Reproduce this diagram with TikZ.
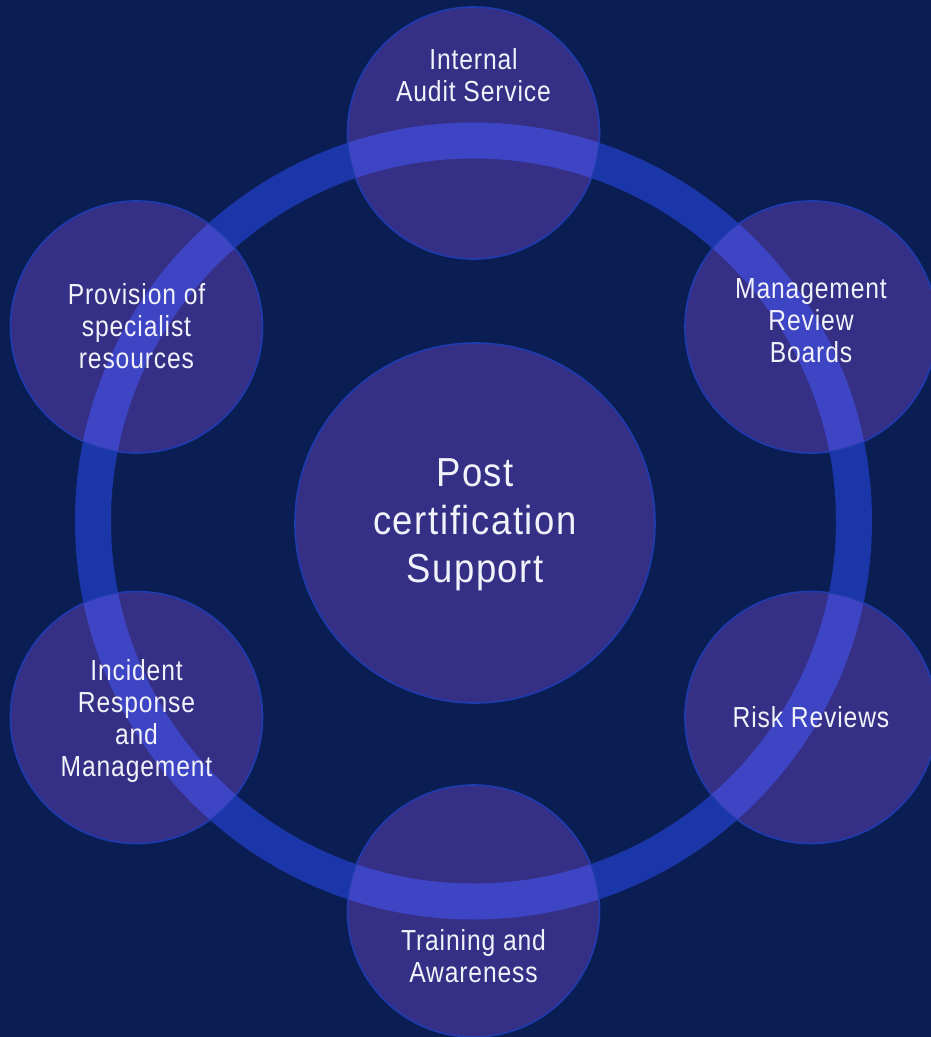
\documentclass[tikz,border=0pt]{standalone}
\usepackage{fontspec}
\setmainfont{Liberation Sans}
\newfontfamily\smallf{Liberation Sans}[FakeStretch=0.85,LetterSpace=3]
\newfontfamily\bigf{Liberation Sans}[FakeStretch=0.9,LetterSpace=4]
\definecolor{bg}{RGB}{11,30,84}
\definecolor{ringc}{RGB}{27,54,168}
\definecolor{ringhi}{RGB}{62,69,196}
\definecolor{circfill}{RGB}{53,47,133}
\definecolor{circline}{RGB}{30,60,175}
\definecolor{txt}{RGB}{242,242,250}
\tikzset{
  ringstyle/.style={draw=ringc, line width=36pt},
  ringover/.style={draw=ringhi, line width=36pt},
  sat/.style={circle, fill=circfill, draw=circline, line width=1.6pt, minimum size=252pt, inner sep=0pt},
  hubc/.style={circle, fill=circfill, draw=circline, line width=1.6pt, minimum size=360pt, inner sep=0pt},
  smalltxt/.style={text=txt, align=center, inner sep=0pt, font=\smallf\fontsize{29}{32}\selectfont},
  bigtxt/.style={text=txt, align=center, inner sep=0pt, font=\bigf\fontsize{40.5}{48}\selectfont}
}
\begin{document}
\begin{tikzpicture}[x=1pt,y=-1pt]
\path[use as bounding box, fill=bg] (0,0) rectangle (931,1037);
\coordinate (c) at (473.5,521);
\draw[ringstyle] (c) circle[radius=380.5];

\node[sat] (audit) at (473.5,133) {};
\node[sat] (mgmt) at (811,327) {};
\node[sat] (risk) at (811,717.5) {};
\node[sat] (train) at (473.5,911) {};
\node[sat] (incid) at (136.5,717.5) {};
\node[sat] (prov) at (136.5,327) {};

\foreach \n in {audit,mgmt,risk,train,incid,prov}{
  \begin{scope}
    \clip (\n.center) circle[radius=125.3];
    \draw[ringover] (c) circle[radius=380.5];
  \end{scope}
}

\node[hubc] (hub) at (475,523) {};

\node[smalltxt] (auditT) at (473.5,75) {Internal\\Audit Service};
\node[smalltxt] (mgmtT) at (811,321) {Management\\Review\\Boards};
\node[smalltxt] (riskT) at (811,717.5) {Risk Reviews};
\node[smalltxt] (trainT) at (473.5,956.5) {Training and\\Awareness};
\node[smalltxt] (incidT) at (136.5,720.5) {Incident\\Response\\and\\Management};
\node[smalltxt] (provT) at (136.5,326.5) {Provision of\\specialist\\resources};
\node[bigtxt] (hubT) at (475,525) {Post\\certification\\Support};
\end{tikzpicture}
\end{document}
